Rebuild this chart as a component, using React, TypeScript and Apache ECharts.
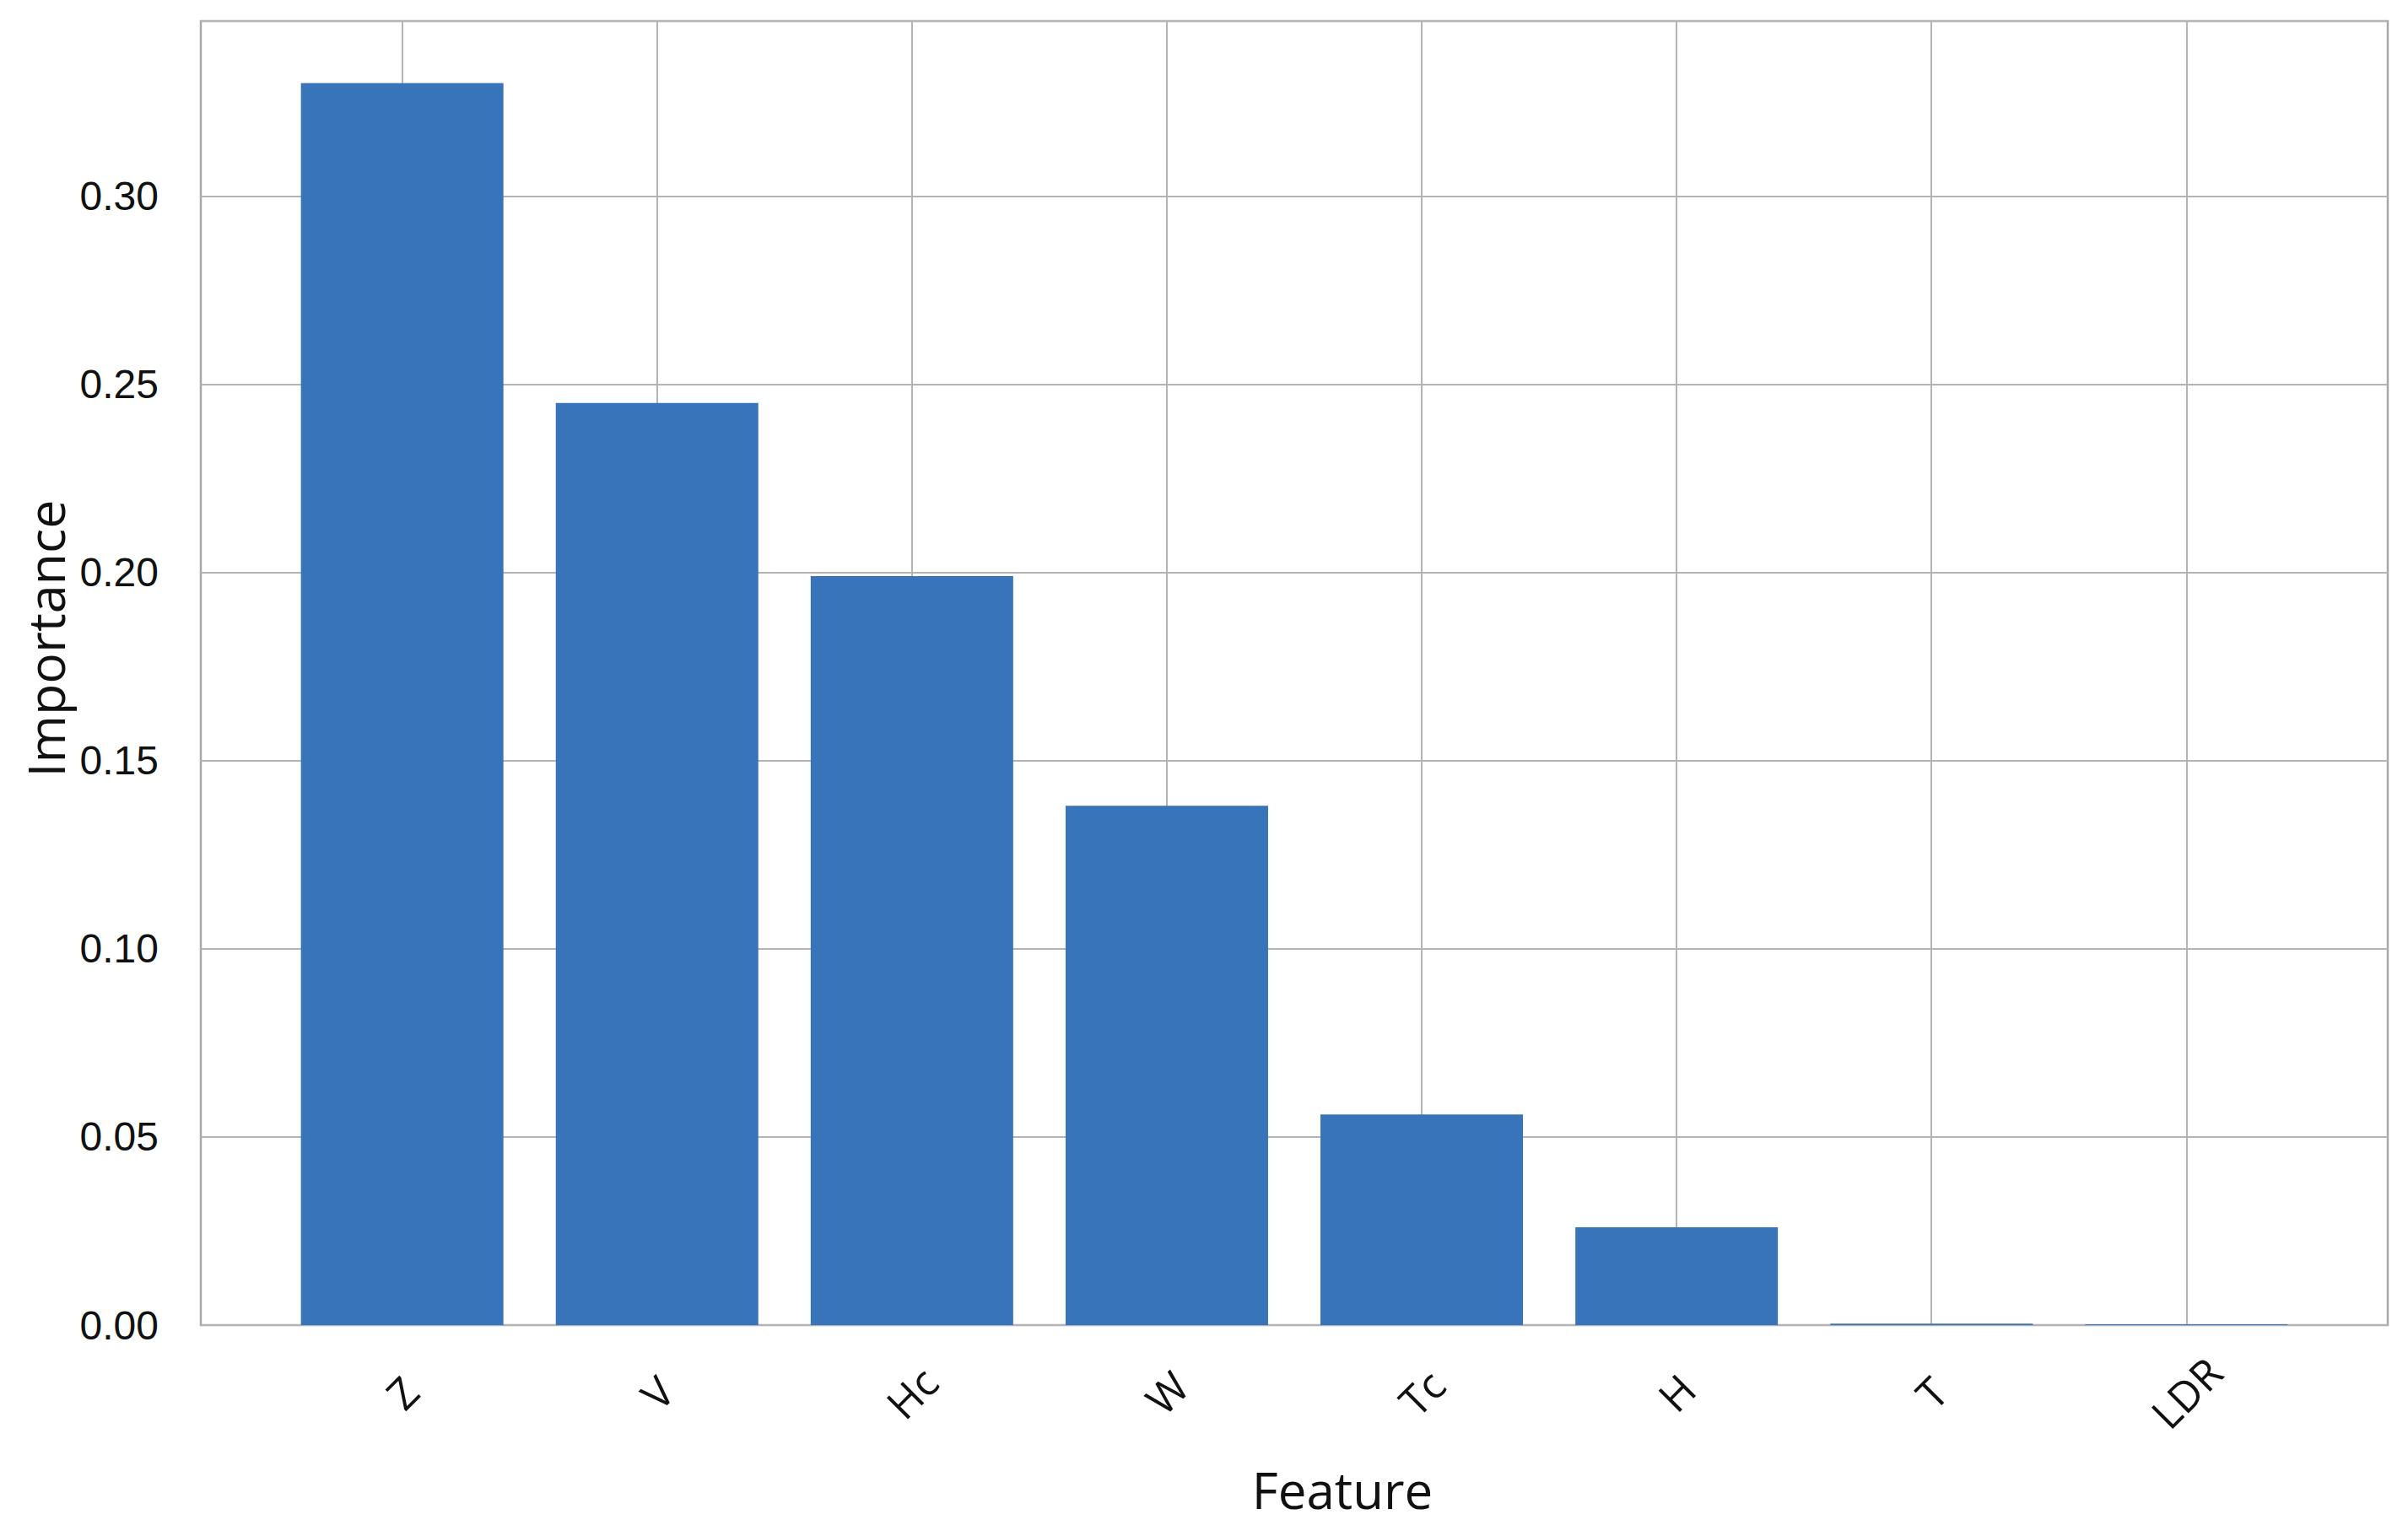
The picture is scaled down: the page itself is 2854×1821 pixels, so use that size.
import React, { useEffect, useRef } from "react";
import * as echarts from "echarts";

const categories = ["Z", "V", "Hc", "W", "Tc", "H", "T", "LDR"];
const importance = [0.33, 0.245, 0.199, 0.138, 0.056, 0.026, 0.0004, 0.0002];
const yTicks = [0, 0.05, 0.1, 0.15, 0.2, 0.25, 0.3];
const yMax = 0.3465;
const xMin = -0.79;
const xMax = 7.79;

export default function App() {
  const ref = useRef<HTMLDivElement>(null);
  useEffect(() => {
    const chart = echarts.init(ref.current as HTMLDivElement, null, { renderer: "svg" });
    const idx = categories.map((_, i) => i);
    chart.setOption({
      animation: false,
      backgroundColor: "#ffffff",
      grid: {
        left: 238,
        right: 24,
        top: 25,
        bottom: 250,
        show: true,
        borderColor: "#a8a8a8",
        borderWidth: 2.5,
        backgroundColor: "#ffffff",
      },
      xAxis: {
        type: "value",
        min: xMin,
        max: xMax,
        axisLine: { show: false },
        axisTick: { show: false, customValues: idx },
        splitLine: { show: false },
        axisLabel: {
          customValues: idx,
          formatter: (v: number) => categories[Math.round(v)] ?? "",
          rotate: 45,
          align: "center",
          verticalAlign: "middle",
          margin: 80,
          fontFamily: "Open Sans",
          fontSize: 50,
          color: "#111111",
        },
        name: "Feature",
        nameLocation: "middle",
        nameGap: 165,
        nameTextStyle: {
          fontFamily: "Open Sans",
          fontSize: 60,
          color: "#111111",
          padding: [0, 0, 0, 114],
        },
      },
      yAxis: {
        type: "value",
        min: 0,
        max: yMax,
        interval: 0.05,
        axisLine: { show: false },
        axisTick: { show: false },
        splitLine: { show: true, lineStyle: { color: "#b4b4b4", width: 2 } },
        axisLabel: {
          customValues: yTicks,
          formatter: (v: number) => v.toFixed(2),
          margin: 50,
          fontFamily: "Liberation Sans",
          fontSize: 48,
          color: "#111111",
        },
        name: "Importance",
        nameLocation: "middle",
        nameGap: 150,
        nameRotate: 90,
        nameTextStyle: {
          fontFamily: "Open Sans",
          fontSize: 61,
          color: "#111111",
          padding: [0, 0, 0, 82],
        },
      },
      series: [
        {
          type: "bar",
          data: categories.map((_, i) => [i, importance[i]]),
          barWidth: 240,
          itemStyle: { color: "#3874b9" },
          z: 3,
          markLine: {
            silent: true,
            symbol: "none",
            z: 1,
            label: { show: false },
            lineStyle: { color: "#b4b4b4", width: 2, type: "solid" },
            data: idx.map((i) => ({ xAxis: i })),
          },
        },
      ],
    });
    return () => chart.dispose();
  }, []);
  return (
    <div
      ref={ref}
      style={{ position: "absolute", left: 0, top: 0, width: 2854, height: 1821 }}
    />
  );
}
